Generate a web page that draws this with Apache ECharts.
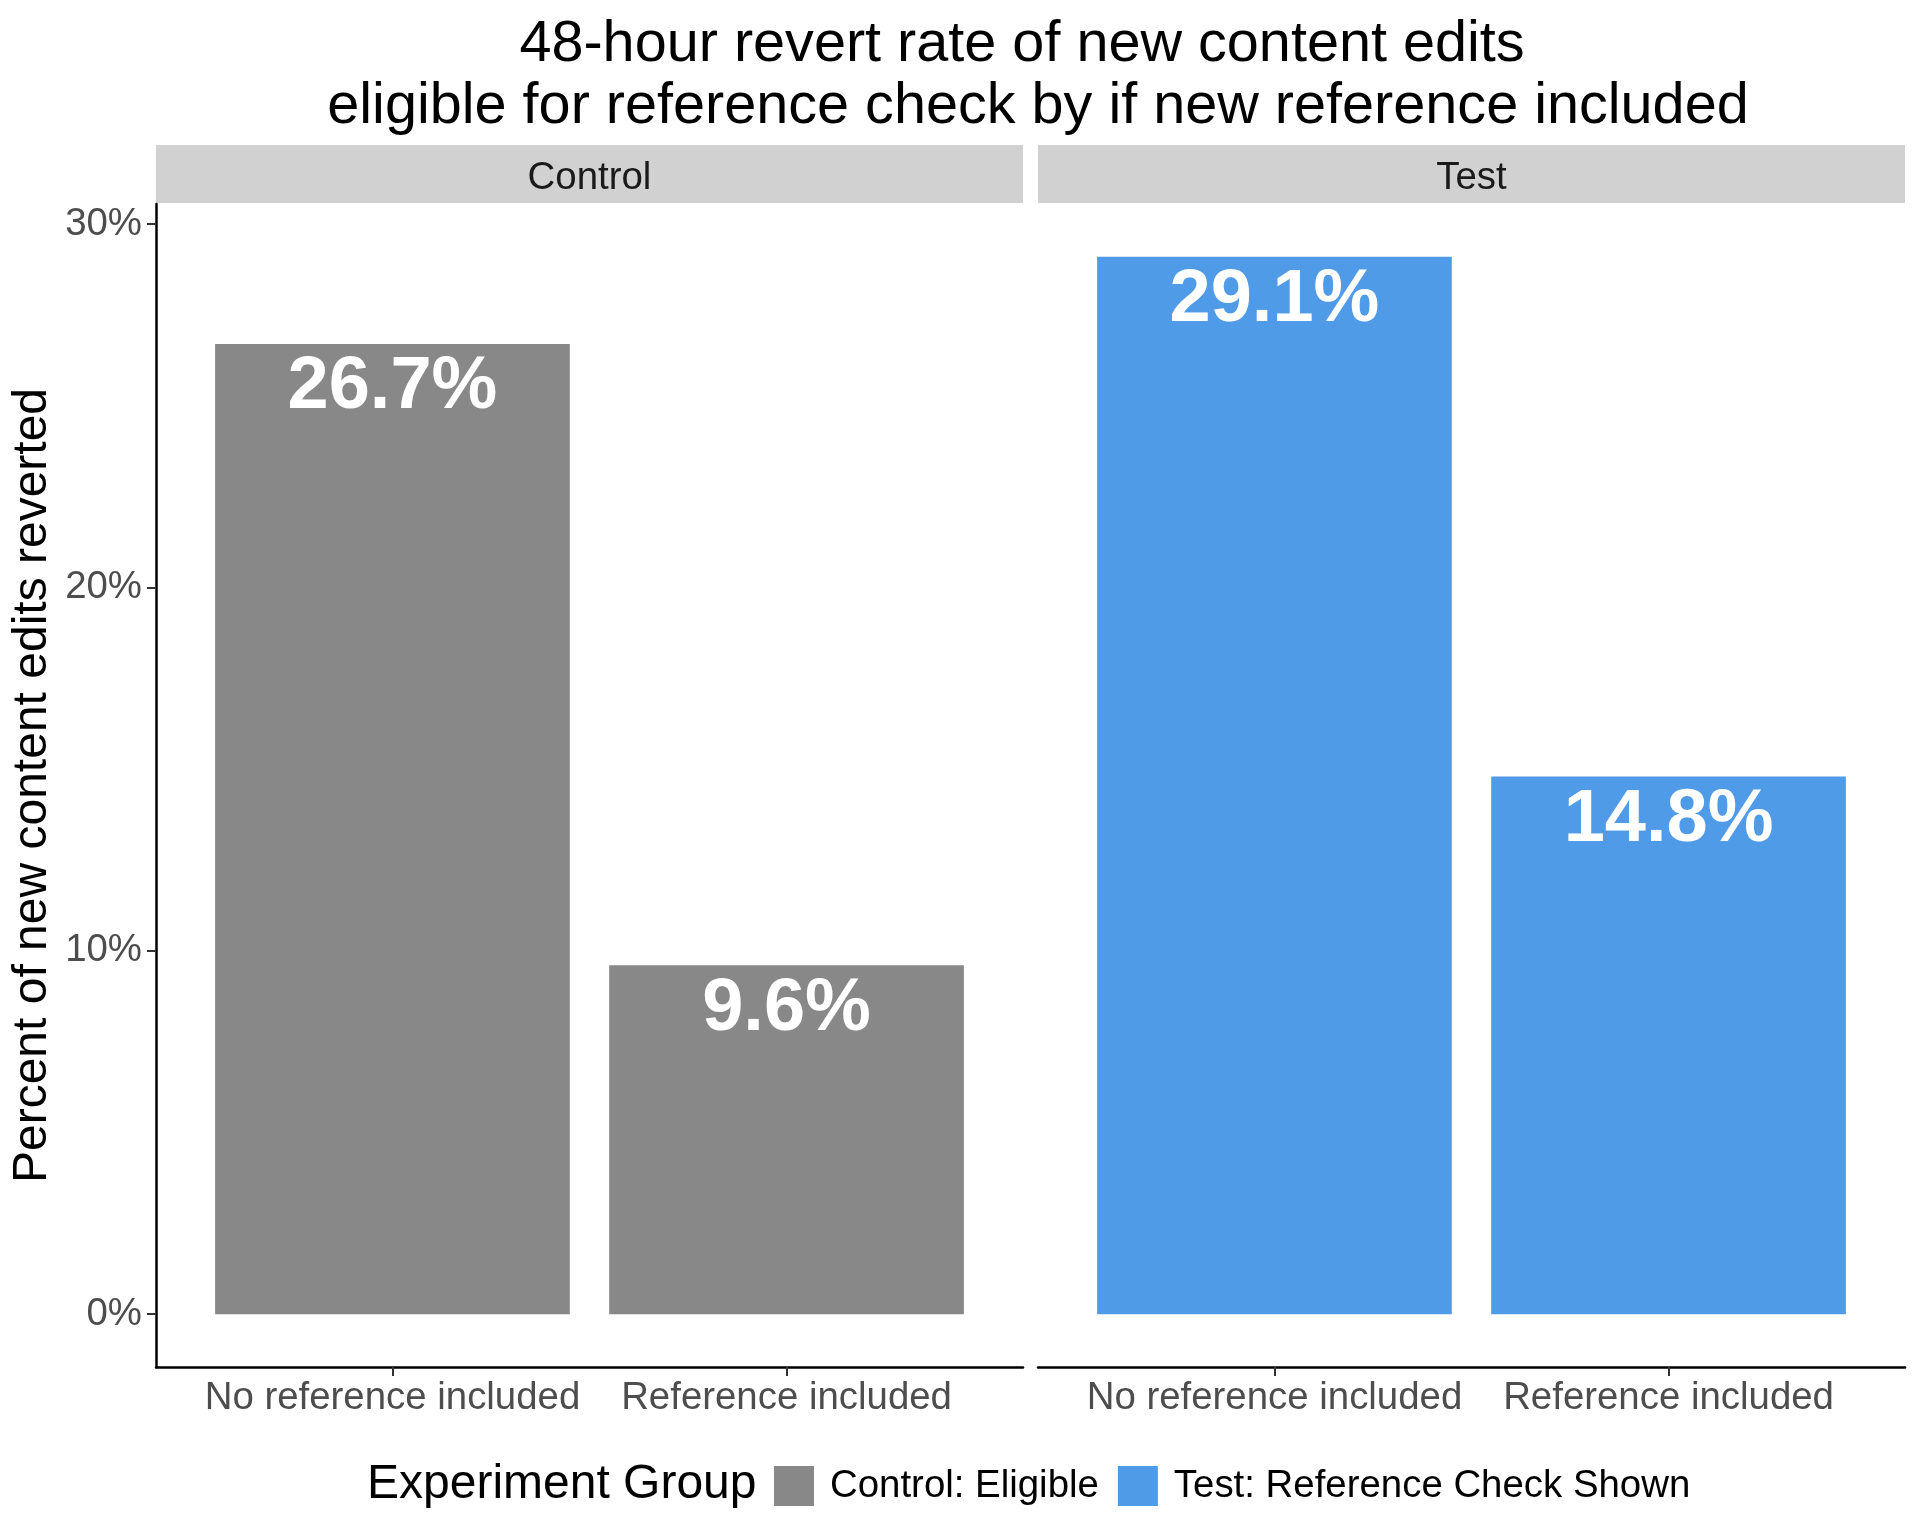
<!DOCTYPE html>
<html>
<head>
<meta charset="utf-8">
<script src="https://cdn.jsdelivr.net/npm/echarts@6/dist/echarts.min.js"></script>
<style>
html,body{margin:0;padding:0;background:#fff;}
#chart{width:1920px;height:1536px;}
</style>
</head>
<body>
<div id="chart"></div>
<script>
const titleLines = ['48-hour revert rate of new content edits', 'eligible for reference check by if new reference included'];
const panels = ['Control', 'Test'];
const categories = ['No reference included', 'Reference included'];
const controlValues = [26.7, 9.6];
const testValues = [29.1, 14.8];
const seriesNames = ['Control: Eligible', 'Test: Reference Check Shown'];
const yTicks = [0, 10, 20, 30];
const yAxisTitle = 'Percent of new content edits reverted';
const legendTitle = 'Experiment Group';

const FONT = '"Liberation Sans", Arial, Helvetica, sans-serif';
const colors = ['#888888', '#4F9BE8'];
const Y_MIN = -1.455, Y_MAX = 30.555;
const TOP = 204, HEIGHT = 1163;
const panelLeft = [156, 1038];
const PANEL_W = 867;
const UNIT = PANEL_W / 2.2;

const chart = echarts.init(document.getElementById('chart'), null, {renderer: 'canvas'});

const grids = [];
const xAxes = [];
const yAxes = [];
const series = [];
const values = [controlValues, testValues];

panels.forEach((p, i) => {
  // outer panel grid (axis lines)
  grids.push({left: panelLeft[i], top: TOP, width: PANEL_W, height: HEIGHT, containLabel: false});
  xAxes.push({
    type: 'value', gridIndex: 2 * i, min: 0, max: 1,
    axisLine: {show: true, onZero: false, lineStyle: {color: '#000', width: 2.5}},
    axisTick: {show: false}, axisLabel: {show: false}, splitLine: {show: false}
  });
  yAxes.push({
    type: 'value', gridIndex: 2 * i, min: Y_MIN, max: Y_MAX, show: i === 0,
    axisLine: {show: i === 0, onZero: false, lineStyle: {color: '#000', width: 2.5}},
    axisTick: {show: i === 0, customValues: yTicks, length: 9, lineStyle: {color: '#333', width: 2}},
    axisLabel: {show: i === 0, customValues: yTicks, formatter: v => v + '%', margin: 14,
      color: '#4D4D4D', fontSize: 38.4, fontFamily: FONT},
    splitLine: {show: false}
  });
  // inner category grid (bars)
  grids.push({left: panelLeft[i] + 0.1 * UNIT, top: TOP, width: 2 * UNIT, height: HEIGHT, containLabel: false});
  xAxes.push({
    type: 'category', gridIndex: 2 * i + 1, data: categories,
    axisLine: {show: false, onZero: false},
    axisTick: {show: true, alignWithLabel: true, interval: 0, length: 9, lineStyle: {color: '#333', width: 2}},
    axisLabel: {show: true, interval: 0, margin: 12, color: '#4D4D4D', fontSize: 38.4, fontFamily: FONT},
    splitLine: {show: false}
  });
  yAxes.push({type: 'value', gridIndex: 2 * i + 1, min: Y_MIN, max: Y_MAX, show: false, splitLine: {show: false}});
  series.push({
    name: seriesNames[i], type: 'bar', xAxisIndex: 2 * i + 1, yAxisIndex: 2 * i + 1,
    data: values[i], barWidth: '90%', itemStyle: {color: colors[i]},
    label: {show: true, position: 'insideTop', distance: 7, color: '#fff', fontWeight: 'bold',
      fontSize: 74, fontFamily: FONT, formatter: d => d.value.toFixed(1) + '%'},
    emphasis: {disabled: true}, animation: false
  });
});

const titleX = [1022, 1038];
const graphics = [
  {type: 'text', x: 33, y: 785.5, rotation: Math.PI / 2, style: {text: yAxisTitle, font: '48px ' + FONT, fill: '#000',
    textAlign: 'center', textVerticalAlign: 'middle'}},
  {type: 'text', x: 367, y: 1485, style: {text: legendTitle, font: '48px ' + FONT, fill: '#000',
    textAlign: 'left', textVerticalAlign: 'middle'}}
];
titleLines.forEach((t, k) => {
  graphics.push({type: 'text', x: titleX[k], y: 14 + 62 * k, style: {text: t, font: '57.6px ' + FONT, fill: '#000',
    textAlign: 'center', textVerticalAlign: 'top', lineHeight: 62}});
});
panels.forEach((p, i) => {
  graphics.push({type: 'rect', shape: {x: panelLeft[i], y: 145, width: PANEL_W, height: 58},
    style: {fill: '#D1D1D1'}, z: -1});
  graphics.push({type: 'text', x: panelLeft[i] + PANEL_W / 2, y: 178, style: {text: p, font: '38.4px ' + FONT,
    fill: '#1A1A1A', textAlign: 'center', textVerticalAlign: 'middle'}});
});

chart.setOption({
  animation: false,
  backgroundColor: '#fff',
  grid: grids,
  xAxis: xAxes,
  yAxis: yAxes,
  series: series,
  legend: {
    data: seriesNames, left: 769, top: 1461, orient: 'horizontal',
    itemWidth: 40, itemHeight: 40, itemGap: 19, icon: 'rect',
    textStyle: {fontSize: 38.4, fontFamily: FONT, color: '#000', padding: [0, 0, 0, 11]},
    selectedMode: false
  },
  graphic: graphics
});
</script>
</body>
</html>
